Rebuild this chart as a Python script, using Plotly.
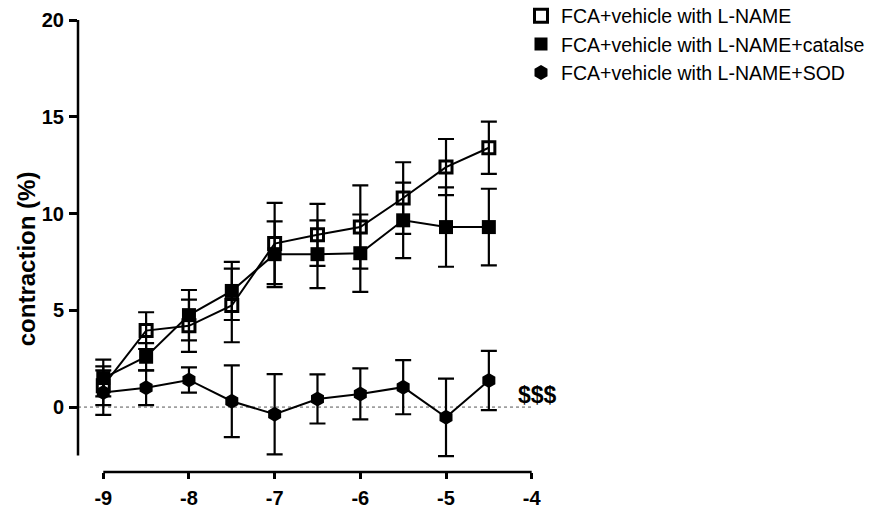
import plotly.graph_objects as go

# ---- data ----
log_conc = [-9, -8.5, -8, -7.5, -7, -6.5, -6, -5.5, -5, -4.5]

lname_mean = [1.1, 3.95, 4.2, 5.25, 8.45, 8.9, 9.3, 10.8, 12.4, 13.4]
lname_sem = [1.0, 0.95, 1.35, 1.9, 2.1, 1.6, 2.15, 1.85, 1.45, 1.35]

catalase_mean = [1.5, 2.6, 4.75, 6.0, 7.9, 7.9, 7.95, 9.65, 9.3, 9.3]
catalase_sem = [0.95, 0.7, 1.3, 1.5, 1.7, 1.75, 2.0, 1.95, 2.05, 1.98]

sod_mean = [0.75, 1.0, 1.4, 0.3, -0.37, 0.42, 0.68, 1.03, -0.53, 1.37]
sod_sem = [1.15, 0.9, 0.65, 1.85, 2.07, 1.27, 1.32, 1.4, 2.0, 1.53]

series_names = [
    "FCA+vehicle with L-NAME",
    "FCA+vehicle with L-NAME+catalse",
    "FCA+vehicle with L-NAME+SOD",
]

x_tickvals = [-9, -8, -7, -6, -5, -4]
x_ticktext = ["-9", "-8", "-7", "-6", "-5", "-4"]
y_tickvals = [0, 5, 10, 15, 20]
y_ticktext = ["0", "5", "10", "15", "20"]

y_axis_bottom = -2.5
sig_label = "$$$"

# ---- figure ----
FONT = "Liberation Sans, Arial, sans-serif"
fig = go.Figure()

err_style = dict(type="data", color="black", thickness=2.2, width=8)

specs = [
    (lname_mean, lname_sem, "square-open", 12, series_names[0]),
    (catalase_mean, catalase_sem, "square", 14, series_names[1]),
    (sod_mean, sod_sem, "hexagon", 15, series_names[2]),
]

for mean, sem, sym, size, name in specs:
    fig.add_trace(go.Scatter(
        x=log_conc, y=mean, mode="lines+markers",
        line=dict(color="black", width=2),
        marker=dict(symbol=sym, size=size, color="black",
                    line=dict(color="black", width=3 if sym == "square-open" else 0)),
        error_y=dict(array=sem, **err_style),
        showlegend=False, cliponaxis=False,
    ))

# legend-only marker entries
for i, (mean, sem, sym, size, name) in enumerate(specs):
    fig.add_trace(go.Scatter(
        x=[None], y=[None], mode="markers", name=name,
        marker=dict(symbol=sym, size=13 if sym != "hexagon" else 15, color="black",
                    line=dict(color="black", width=3 if sym == "square-open" else 0)),
        legendgroup=f"g{i}", showlegend=True,
    ))

X_LEFT = -9.295

# zero reference line (dotted)
fig.add_shape(type="line", xref="x", x0=X_LEFT, x1=-4, yref="y", y0=0, y1=0,
              line=dict(color="#555555", width=1, dash="dot"), layer="below")

# axis lines (Prism-style detached)
fig.add_shape(type="line", xref="paper", x0=0, x1=0, yref="y",
              y0=y_axis_bottom, y1=20, line=dict(color="black", width=2.5))
fig.add_shape(type="line", xref="x", x0=-9, x1=-4, yref="paper",
              y0=0, y1=0, line=dict(color="black", width=2.5))

fig.add_annotation(x=-3.93, y=0.62, xref="x", yref="y", text=sig_label,
                   showarrow=False, xanchor="center", yanchor="middle",
                   font=dict(family=FONT, size=23, color="black", weight="bold"))

fig.add_annotation(x=(26 - 78) / 462, y=1 - (259 - 19.5) / 452.5,
                   xref="paper", yref="paper", text="contraction (%)",
                   textangle=-90, showarrow=False, xanchor="center", yanchor="middle",
                   font=dict(family=FONT, size=24, color="black", weight="bold"))

fig.update_layout(
    width=886, height=510,
    margin=dict(l=78, r=346, t=19.5, b=38, pad=0, autoexpand=False),
    paper_bgcolor="white", plot_bgcolor="white",
    font=dict(family=FONT, color="black"),
    xaxis=dict(range=[X_LEFT, -3.903], tickvals=x_tickvals, ticktext=x_ticktext,
               showgrid=False, zeroline=False, showline=False,
               ticks="outside", ticklen=6, tickwidth=2.5, tickcolor="black",
               tickfont=dict(family=FONT, size=20, color="black", weight="bold"),
               ticklabelstandoff=2),
    yaxis=dict(range=[-3.355, 20], tickvals=y_tickvals, ticktext=y_ticktext,
               showgrid=False, zeroline=False, showline=False,
               ticks="outside", ticklen=8, tickwidth=2.5, tickcolor="black",
               tickfont=dict(family=FONT, size=20, color="black", weight="bold"),
               ticklabelstandoff=1),
    legend=dict(xref="paper", yref="paper", x=(521 - 78) / 462,
                y=1 + (19.5 + 4) / 452.5,
                xanchor="left", yanchor="top", bgcolor="rgba(0,0,0,0)",
                font=dict(family=FONT, size=19.5, color="black"),
                tracegroupgap=0, itemwidth=30),
)

# remove the default 8px page margin so the figure fills the 886x510 window
fig.write_html("out.html",
               config={"displayModeBar": False},
               post_script="document.body.style.margin='0';document.body.style.overflow='hidden';")
